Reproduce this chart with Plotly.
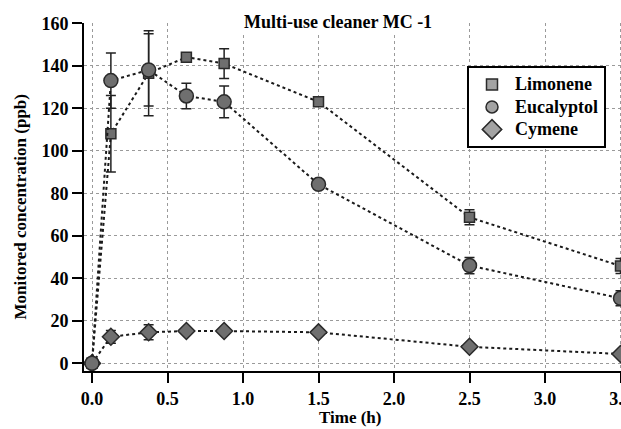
import plotly.graph_objects as go

# Data
time_h = [0, 0.125, 0.375, 0.625, 0.875, 1.5, 2.5, 3.5]

limonene = [0, 108, 136.5, 144, 141, 123, 68.7, 45.8]
limonene_err = [0, 18, 20, 1.5, 7, 1.2, 3.5, 3.5]

eucalyptol = [0, 133, 138, 125.8, 123, 84.2, 46, 30.6]
eucalyptol_err = [0, 13, 17, 6, 7.5, 2.2, 3.8, 3.5]

cymene = [0, 12.5, 14.6, 15.2, 15.2, 14.6, 7.8, 4.4]
cymene_err = [0, 3, 3.5, 1, 1, 1, 1, 1]

x_ticks = [0.0, 0.5, 1.0, 1.5, 2.0, 2.5, 3.0, 3.5]
y_ticks = [0, 20, 40, 60, 80, 100, 120, 140, 160]

FONT = "Liberation Serif"
marker_fill = "#6f6f6f"
legend_fill = "#a3a3a3"
edge = "#2a2a2a"

series = [
    ("Cymene", cymene, cymene_err, "diamond", 13),
    ("Limonene", limonene, limonene_err, "square", 10),
    ("Eucalyptol", eucalyptol, eucalyptol_err, "circle", 14),
]

fig = go.Figure()

for name, vals, err, sym, size in series:
    fig.add_trace(
        go.Scatter(
            x=time_h,
            y=vals,
            mode="lines+markers",
            showlegend=False,
            line=dict(color="#1a1a1a", width=2, dash="3px,3px"),
            marker=dict(symbol=sym, size=size, color=marker_fill,
                        line=dict(color=edge, width=1.5)),
            error_y=dict(type="data", array=err, visible=True,
                         color="#222222", thickness=1.5, width=5),
        )
    )

# legend entries (lighter markers, as in the original)
legend_items = [("Limonene", "square", 11, 1), ("Eucalyptol", "circle", 12, 2),
                ("Cymene", "diamond", 15, 3)]
for name, sym, size, rank in legend_items:
    fig.add_trace(
        go.Scatter(
            x=[None], y=[None], mode="markers",
            name="<b><span style='font-size:18px;font-weight:bold'>%s</span></b>" % name,
            legendrank=rank,
            marker=dict(symbol=sym, size=size, color=legend_fill,
                        line=dict(color=edge, width=1.5)),
        )
    )

# figure is a bit wider than the window so the last column gets cut like the original
W = 640
plot_w = W - 84

fig.update_layout(
    width=W,
    height=429,
    autosize=False,
    plot_bgcolor="white",
    paper_bgcolor="white",
    margin=dict(l=84, r=0, t=23, b=58),
    font=dict(family=FONT, size=18, color="black"),
    showlegend=True,
    legend=dict(
        x=(467 - 84) / plot_w, y=0.876, xanchor="left", yanchor="top",
        bgcolor="white", bordercolor="black", borderwidth=2,
        font=dict(family=FONT, size=15, color="black"),
        tracegroupgap=0, itemwidth=36,
    ),
    annotations=[
        dict(text="<b>Multi-use cleaner MC -1</b>", xref="paper", yref="paper",
             x=(338 - 84) / plot_w, y=1.003, xanchor="center", yanchor="middle",
             showarrow=False, bgcolor="white", font=dict(size=18)),
        dict(text="<b>Monitored concentration (ppb)</b>", xref="paper", yref="paper",
             x=-64 / plot_w, y=0.47, xanchor="center", yanchor="middle", textangle=-90,
             showarrow=False, font=dict(size=17)),
        dict(text="<b>Time (h)</b>", xref="paper", yref="paper",
             x=(350 - 84) / plot_w, y=-0.135, xanchor="center", yanchor="middle",
             showarrow=False, font=dict(size=17)),
    ],
)

fig.update_xaxes(
    range=[-0.053, -0.053 + plot_w / 151.0],
    tickvals=x_ticks,
    ticktext=["<b>%.1f</b>" % v for v in x_ticks],
    showgrid=True, gridcolor="#9a9a9a", gridwidth=1, griddash="dot",
    zeroline=False,
    showline=True, linecolor="black", linewidth=2,
    ticks="outside", ticklen=10, tickwidth=2, tickcolor="black",
)

fig.update_yaxes(
    range=[-3.6, 160.1],
    tickvals=y_ticks,
    ticktext=["<b>%d</b>" % v for v in y_ticks],
    showgrid=True, gridcolor="#9a9a9a", gridwidth=1, griddash="dot",
    zeroline=False,
    showline=True, linecolor="black", linewidth=2,
    ticks="outside", ticklen=10, tickwidth=2, tickcolor="black",
)

# page body has a default 8px margin; drop it so the figure sits at the corner
fig.write_html(
    "out.html",
    config={"displayModeBar": False},
    post_script="document.body.style.margin='0';document.body.style.overflow='hidden';",
)
